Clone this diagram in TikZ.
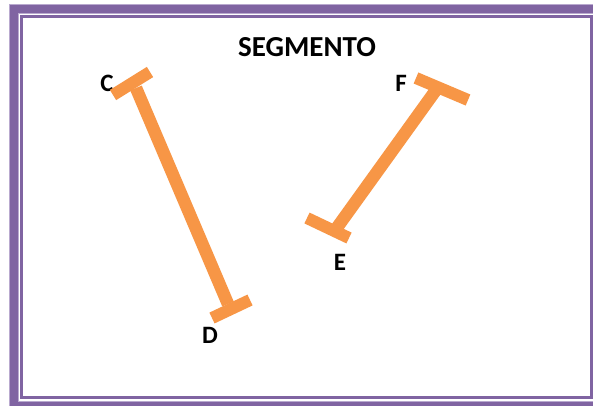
\documentclass[tikz,border=0pt]{standalone}
\usepackage{fontspec}
\setmainfont{Carlito}
\definecolor{framepurple}{HTML}{8064A2}
\definecolor{framelight}{HTML}{B9A9CF}
\definecolor{segorange}{HTML}{F79646}
\begin{document}
\begin{tikzpicture}[x=1pt,y=-1pt,
  seg/.style={draw=segorange,line width=12.5pt,line cap=butt},
  endbar/.style={draw=segorange,line width=12pt,line cap=butt},
  lbl/.style={font=\bfseries\fontsize{25}{25}\selectfont,inner sep=0pt,anchor=center},
  ttl/.style={font=\bfseries\fontsize{29}{29}\selectfont,inner sep=0pt,anchor=center}]
\useasboundingbox (0,0) rectangle (593,405);
\fill[white] (0,0) rectangle (593,405);
% frame
\draw[framelight,line width=10pt] (13.5,8.5) rectangle (620,405.5);
\draw[framepurple,line width=8pt] (13.5,8.5) rectangle (620,405.5);
\draw[framepurple,line width=3pt] (21.5,16.5) rectangle (591.5,397.5);
% labels
\node[ttl] (title) at (307,47) {SEGMENTO};
\node[lbl] (C) at (107,83) {C};
\node[lbl] (F) at (401,83) {F};
\node[lbl] (E) at (340,262) {E};
\node[lbl] (D) at (210,335) {D};
% coordinates
\coordinate (Cs) at (136,88);
\coordinate (Ds) at (228,304);
\coordinate (Ca) at (113,95);
\coordinate (Cb) at (150,72);
\coordinate (Da) at (212,318);
\coordinate (Db) at (250,300);
\coordinate (Es) at (336,229);
\coordinate (Fs) at (436,90);
\coordinate (Ea) at (307,218);
\coordinate (Eb) at (349,238);
\coordinate (Fa) at (416,78);
\coordinate (Fb) at (468,100);
% segments
\draw[seg] (Cs) -- (Ds);
\draw[endbar] (Ca) -- (Cb);
\draw[endbar] (Da) -- (Db);
\draw[seg] (Es) -- (Fs);
\draw[endbar] (Ea) -- (Eb);
\draw[endbar] (Fa) -- (Fb);
\end{tikzpicture}
\end{document}
